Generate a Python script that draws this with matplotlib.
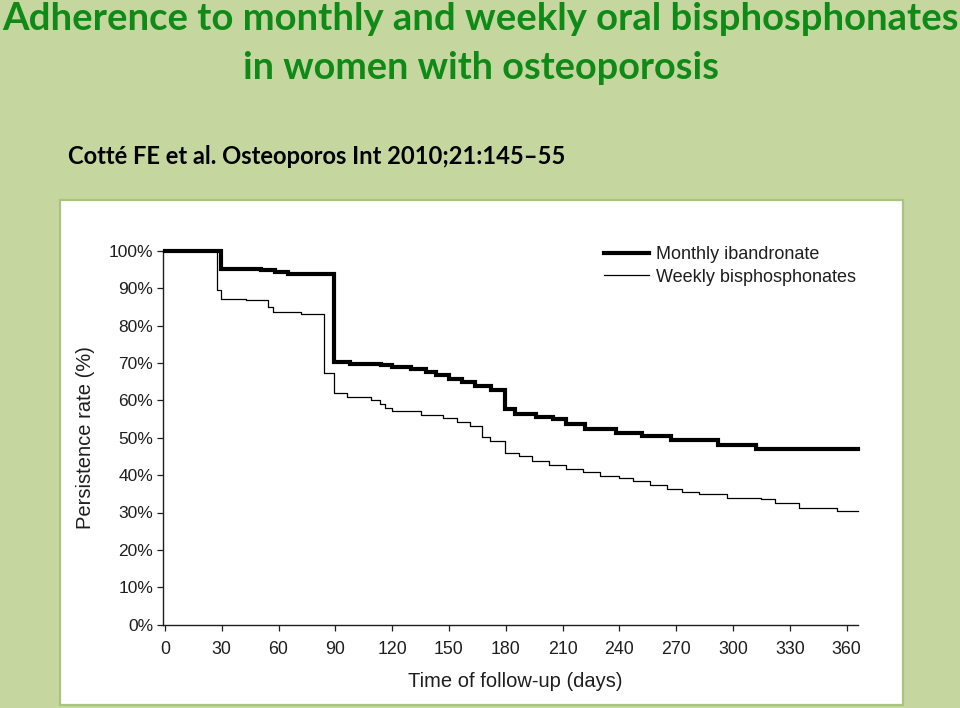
import matplotlib
matplotlib.use("Agg")
import matplotlib.pyplot as plt
from matplotlib.patches import Rectangle
from matplotlib.ticker import FuncFormatter

# ---- data ----
monthly_days = [0, 29.5, 51, 58, 65, 89.5, 98, 114, 120, 130, 138, 143, 150, 157,
                164, 172, 179.5, 185, 196, 205, 212, 222, 238, 252, 267, 292, 312, 366]
monthly_vals = [100, 95.2, 94.8, 94.3, 93.8, 70.3, 69.8, 69.4, 68.9, 68.3, 67.7, 66.8,
                65.8, 64.8, 63.8, 62.7, 57.6, 56.3, 55.6, 54.9, 53.6, 52.3, 51.3, 50.4,
                49.4, 48.0, 47.0, 47.0]

weekly_days = [0, 27.5, 29.6, 43, 54.5, 57, 72, 84, 89.3, 96, 109, 113.5, 116, 120,
               135, 147, 154, 161, 167.6, 171.6, 179.8, 187, 194, 203, 212, 221, 230,
               240, 247, 256, 265, 273, 282, 297, 315, 322, 335, 355, 366]
weekly_vals = [100, 89.5, 87.2, 86.8, 84.9, 83.6, 83.0, 67.2, 61.9, 60.9, 60.2, 59.0,
               58.0, 57.2, 56.2, 55.3, 54.3, 53.0, 50.1, 49.2, 46.0, 45.0, 43.8, 42.6,
               41.6, 40.8, 39.8, 39.2, 38.4, 37.3, 36.4, 35.6, 35.0, 34.0, 33.5, 32.5,
               31.3, 30.4, 30.4]

x_ticks = list(range(0, 361, 30))
y_ticks = list(range(0, 101, 10))

series_labels = ["Monthly ibandronate", "Weekly bisphosphonates"]
title_line1 = "Adherence to monthly and weekly oral bisphosphonates"
title_line2 = "in women with osteoporosis"
citation = "Cotté FE et al. Osteoporos Int 2010;21:145\u201355"

BG = "#C5D79F"
TITLE_GREEN = "#0F8A17"
INK = "#1E1E1E"
W, H = 960, 708

fig = plt.figure(figsize=(W / 100, H / 100), dpi=100, facecolor=BG)

# white panel
fig.patches.append(Rectangle((59.5 / W, 1 - 705 / H), (903 - 59.5) / W, (705 - 200) / H,
                             transform=fig.transFigure, facecolor="white",
                             edgecolor="#A9C47D", linewidth=1.6, zorder=-5))

# titles
tfam = ["Lato", "DejaVu Sans"]
fig.text(480 / W, 1 - 19 / H, title_line1, ha="center", va="center", color=TITLE_GREEN,
         fontsize=27.5, fontweight="bold", family=tfam)
fig.text(481 / W, 1 - 68 / H, title_line2, ha="center", va="center", color=TITLE_GREEN,
         fontsize=27.3, fontweight="bold", family=tfam)
fig.text(68 / W, 1 - 157 / H, citation, ha="left", va="center", color="black",
         fontsize=17.1, fontweight="bold", family=tfam)

# axes
left_px, right_px = 163, 858
bot_px, top_px = 624.7, 250.7
ax = fig.add_axes([left_px / W, 1 - bot_px / H, (right_px - left_px) / W, (bot_px - top_px) / H])
ax.set_zorder(2)
ax.set_facecolor("none")
ax.set_xlim(-1, 366)
ax.set_ylim(0, 100)

ax.step(monthly_days, monthly_vals, where="post", color="black", lw=3.0,
        solid_joinstyle="miter", clip_on=False, label=series_labels[0], zorder=3)
ax.step(weekly_days, weekly_vals, where="post", color="black", lw=0.9,
        clip_on=False, label=series_labels[1], zorder=2)

for s in ("top", "right"):
    ax.spines[s].set_visible(False)
for s in ("left", "bottom"):
    ax.spines[s].set_color(INK)
    ax.spines[s].set_linewidth(1.0)

ax.set_xticks(x_ticks)
ax.set_yticks(y_ticks)
ax.yaxis.set_major_formatter(FuncFormatter(lambda v, p: f"{int(v)}%"))
ax.tick_params(axis="both", direction="out", length=4, width=0.9, color=INK,
               labelcolor=INK)
ax.tick_params(axis="x", pad=8)
ax.tick_params(axis="y", pad=3)
cfam = ["Liberation Sans", "DejaVu Sans"]
for lab in ax.get_xticklabels():
    lab.set_family(cfam); lab.set_fontsize(12.8)
for lab in ax.get_yticklabels():
    lab.set_family(cfam); lab.set_fontsize(12.5)

ax.set_xlabel("Time of follow-up (days)", family=cfam, fontsize=14.5, color=INK, labelpad=12)
ax.xaxis.set_label_coords((515 - left_px) / (right_px - left_px), -0.126)
ax.set_ylabel("Persistence rate (%)", family=cfam, fontsize=14.5, color=INK, labelpad=10)

leg = ax.legend(loc="upper left", bbox_to_anchor=(604 / W, 1 - 246 / H),
                bbox_transform=fig.transFigure, frameon=False,
                prop={"family": cfam, "size": 13}, handlelength=2.5,
                handletextpad=0.4, labelspacing=0.32, borderaxespad=0, borderpad=0)
for t in leg.get_texts():
    t.set_color(INK)

fig.savefig("out.png", dpi=100, facecolor=BG)
